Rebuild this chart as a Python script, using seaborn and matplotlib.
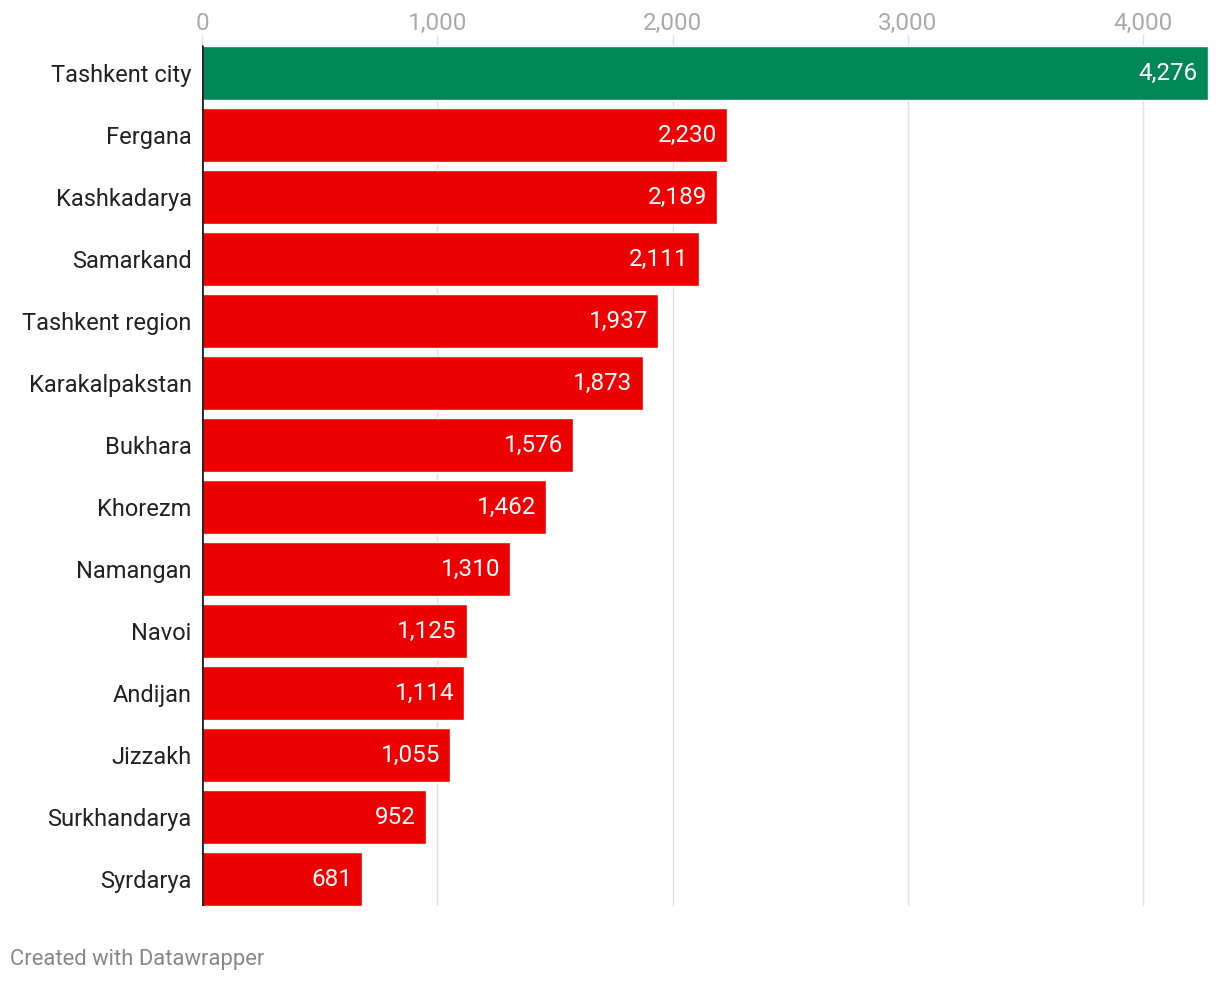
import matplotlib.pyplot as plt
import pandas as pd
import seaborn as sns

regions = [
    "Tashkent city", "Fergana", "Kashkadarya", "Samarkand", "Tashkent region",
    "Karakalpakstan", "Bukhara", "Khorezm", "Namangan", "Navoi", "Andijan",
    "Jizzakh", "Surkhandarya", "Syrdarya",
]
values = [4276, 2230, 2189, 2111, 1937, 1873, 1576, 1462, 1310, 1125, 1114, 1055, 952, 681]
ticks = [0, 1000, 2000, 3000, 4000]

GREEN = "#018657"
RED = "#ee0000"

df = pd.DataFrame({"region": regions, "value": values})

sns.set_theme(style="white")
plt.rcParams["font.family"] = ["Roboto", "DejaVu Sans"]

fig = plt.figure(figsize=(12.2, 9.82), dpi=100)
ax = fig.add_axes([202 / 1220, 1 - 906 / 982, 1006 / 1220, 871 / 982])

palette = [GREEN] + [RED] * (len(regions) - 1)
sns.barplot(data=df, x="value", y="region", hue="region", palette=palette,
            legend=False, width=54 / 62, saturation=1, ax=ax, zorder=2)

ax.set_xlim(0, 4276)
ax.set_ylim(13.5 - 4 / 62, -0.5 - 7 / 62)
ax.set_xticks(ticks)
ax.set_xticklabels([f"{t:,}" for t in ticks])
ax.xaxis.tick_top()
ax.tick_params(axis="x", length=0, pad=0, labelsize=17.5, labelcolor="#aaaaaa")
ax.tick_params(axis="y", length=0, pad=7.5, labelsize=17, labelcolor="#222222")
ax.grid(axis="x", color="#e0e0e0", linewidth=1, zorder=0)
for s in ax.spines.values():
    s.set_visible(False)
ax.axvline(0, ymin=0, ymax=860 / 871, color="#222222", linewidth=2, zorder=3)
ax.set_xlabel("")
ax.set_ylabel("")

for i, v in enumerate(values):
    ax.annotate(f"{v:,}", (v, i), xytext=(-10, 0), textcoords="offset pixels",
                ha="right", va="center", color="white", fontsize=17.5, zorder=4)

fig.text(10 / 1220, 1 - 959 / 982, "Created with Datawrapper", color="#888888",
         fontsize=15.8, ha="left", va="center")

fig.savefig("out.png", dpi=100)
plt.close(fig)
